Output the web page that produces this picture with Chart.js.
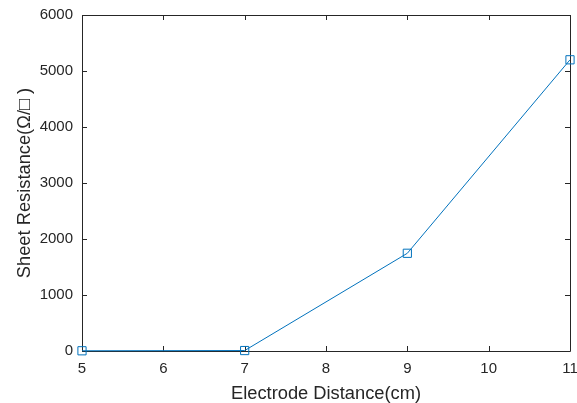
<!DOCTYPE html>
<html>
<head>
<meta charset="utf-8">
<script src="https://cdn.jsdelivr.net/npm/chart.js@4"></script>
<style>
  html, body { margin: 0; padding: 0; background: #ffffff; }
  #wrap { width: 577px; height: 403px; }
</style>
</head>
<body>
<div id="wrap"><canvas id="c" width="577" height="403"></canvas></div>
<script>
// Electrode distance (cm) and measured sheet resistance (Ω/□)
const distances = [5, 7, 9, 11];
const sheetResistance = [4, 8, 1745, 5200];
const xTicks = [5, 6, 7, 8, 9, 10, 11];
const yTicks = [0, 1000, 2000, 3000, 4000, 5000, 6000];

const axisColor = '#262626';
const lineColor = '#0072BD';
const fontFamily = '"Liberation Sans", Arial, Helvetica, sans-serif';

// Box outline with inward tick marks on all four sides
const boxAxes = {
  id: 'boxAxes',
  beforeDatasetsDraw(chart) {
    const { ctx, chartArea: a, scales: { x, y } } = chart;
    const len = 5;
    ctx.save();
    ctx.strokeStyle = axisColor;
    ctx.lineWidth = 1;
    ctx.beginPath();
    ctx.rect(Math.round(a.left) + 0.5, Math.round(a.top) + 0.5,
             Math.round(a.right - a.left), Math.round(a.bottom - a.top));
    xTicks.forEach(v => {
      const px = Math.round(x.getPixelForValue(v)) + 0.5;
      ctx.moveTo(px, a.bottom); ctx.lineTo(px, a.bottom - len);
      ctx.moveTo(px, a.top); ctx.lineTo(px, a.top + len);
    });
    yTicks.forEach(v => {
      const py = Math.round(y.getPixelForValue(v)) + 0.5;
      ctx.moveTo(a.left, py); ctx.lineTo(a.left + len, py);
      ctx.moveTo(a.right, py); ctx.lineTo(a.right - len, py);
    });
    ctx.stroke();
    ctx.restore();
  }
};

const plainLabel = v => String(v);

new Chart(document.getElementById('c'), {
  type: 'line',
  data: {
    datasets: [{
      data: distances.map((d, i) => ({ x: d, y: sheetResistance[i] })),
      borderColor: lineColor,
      borderWidth: 1,
      backgroundColor: 'rgba(0,0,0,0)',
      pointStyle: 'rect',
      pointRadius: 5.8,
      pointHoverRadius: 5.8,
      pointBorderWidth: 1,
      pointBorderColor: lineColor,
      pointBackgroundColor: 'rgba(0,0,0,0)',
      tension: 0,
      clip: false
    }]
  },
  options: {
    responsive: false,
    animation: false,
    devicePixelRatio: 1,
    layout: { padding: { left: 0, right: 7, top: 15, bottom: 0 } },
    plugins: { legend: { display: false }, tooltip: { enabled: false } },
    scales: {
      x: {
        type: 'linear',
        min: 5, max: 11,
        afterBuildTicks: s => { s.ticks = xTicks.map(v => ({ value: v })); },
        afterFit: s => { s.height = 52; s.paddingLeft = 0; s.paddingRight = 0; },
        grid: { display: false, drawTicks: false },
        border: { display: false },
        ticks: { color: axisColor, font: { family: fontFamily, size: 15 }, padding: 9, maxRotation: 0, callback: plainLabel },
        title: {
          display: true,
          text: 'Electrode Distance(cm)',
          color: axisColor,
          font: { family: fontFamily, size: 18.3, lineHeight: 1 },
          padding: { top: 0, bottom: 0 }
        }
      },
      y: {
        type: 'linear',
        min: 0, max: 6000,
        afterBuildTicks: s => { s.ticks = yTicks.map(v => ({ value: v })); },
        afterFit: s => { s.width = 82; s.paddingTop = 0; s.paddingBottom = 0; },
        grid: { display: false, drawTicks: false },
        border: { display: false },
        ticks: { color: axisColor, font: { family: fontFamily, size: 15 }, padding: 9, callback: plainLabel },
        title: {
          display: true,
          text: 'Sheet Resistance(Ω/□ )',
          color: axisColor,
          font: { family: fontFamily, size: 18.3, lineHeight: 1 },
          padding: { top: 16, bottom: 0 }
        }
      }
    }
  },
  plugins: [boxAxes]
});
</script>
</body>
</html>
